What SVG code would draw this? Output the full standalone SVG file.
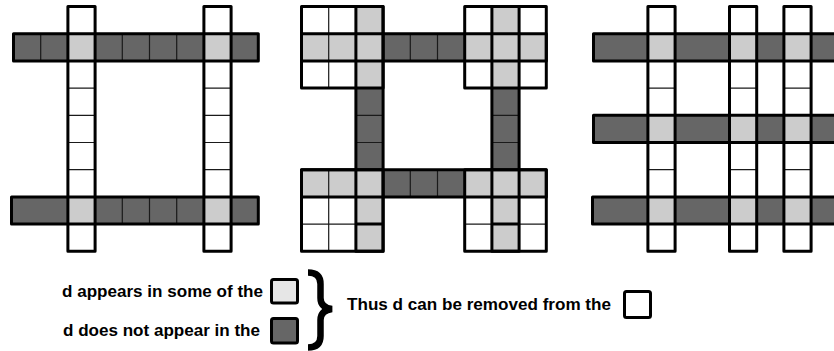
<svg xmlns="http://www.w3.org/2000/svg" width="834" height="351" viewBox="0 0 834 351">
<style>
.w{fill:#ffffff}
.l{fill:#cccccc}
.d{fill:#666666}
.thin{stroke:#1a1a1a;stroke-width:1.2;fill:none}
.thick{stroke:#000;stroke-width:3;fill:none;stroke-linejoin:round}
.txt{font-family:"Liberation Sans",Arial,Helvetica,sans-serif;font-weight:bold;font-size:17.4px;fill:#000}
</style>
<rect width="834" height="351" fill="#ffffff"/>

<g id="panel1">
  <rect class="w" x="67.9" y="6.5" width="27.2" height="244.8"/>
  <rect class="w" x="203.9" y="6.5" width="27.2" height="244.8"/>
  <rect class="d" x="13.5" y="33.7" width="244.8" height="27.2"/>
  <rect class="d" x="11.5" y="196.9" width="246.8" height="27.2"/>
  <rect class="l" x="67.9" y="33.7" width="27.2" height="27.2"/>
  <rect class="l" x="203.9" y="33.7" width="27.2" height="27.2"/>
  <rect class="l" x="67.9" y="196.9" width="27.2" height="27.2"/>
  <rect class="l" x="203.9" y="196.9" width="27.2" height="27.2"/>
  <path class="thin" d="M67.9 88.1H95.1M67.9 115.3H95.1M67.9 142.5H95.1M67.9 169.7H95.1M203.9 88.1H231.1M203.9 115.3H231.1M203.9 142.5H231.1M203.9 169.7H231.1M40.7 33.7V60.9M122.3 33.7V60.9M149.5 33.7V60.9M176.7 33.7V60.9M122.3 196.9V224.1M149.5 196.9V224.1M176.7 196.9V224.1"/>
  <rect class="thick" x="13.5" y="33.7" width="244.8" height="27.2"/>
  <rect class="thick" x="11.5" y="196.9" width="246.8" height="27.2"/>
  <rect class="thick" x="67.9" y="6.5" width="27.2" height="244.8"/>
  <rect class="thick" x="203.9" y="6.5" width="27.2" height="244.8"/>
</g>

<g id="panel2">
  <rect class="w" x="301.5" y="6.5" width="81.6" height="81.6"/>
  <rect class="w" x="464.7" y="6.5" width="81.6" height="81.6"/>
  <rect class="w" x="301.5" y="169.7" width="81.6" height="81.6"/>
  <rect class="w" x="464.7" y="169.7" width="81.6" height="81.6"/>
  <rect class="l" x="301.5" y="33.7" width="81.6" height="27.2"/>
  <rect class="l" x="464.7" y="33.7" width="81.6" height="27.2"/>
  <rect class="l" x="301.5" y="169.7" width="81.6" height="27.2"/>
  <rect class="l" x="464.7" y="169.7" width="81.6" height="27.2"/>
  <rect class="l" x="355.9" y="6.5" width="27.2" height="81.6"/>
  <rect class="l" x="355.9" y="169.7" width="27.2" height="81.6"/>
  <rect class="l" x="491.9" y="6.5" width="27.2" height="81.6"/>
  <rect class="l" x="491.9" y="169.7" width="27.2" height="81.6"/>
  <rect class="d" x="383.1" y="33.7" width="81.6" height="27.2"/>
  <rect class="d" x="383.1" y="169.7" width="81.6" height="27.2"/>
  <rect class="d" x="355.9" y="88.1" width="27.2" height="81.6"/>
  <rect class="d" x="491.9" y="88.1" width="27.2" height="81.6"/>
  <path class="thin" d="M328.7 6.5V88.1M355.9 6.5V88.1M301.5 33.7H383.1M301.5 60.9H383.1M491.9 6.5V88.1M519.1 6.5V88.1M464.7 33.7H546.3M464.7 60.9H546.3M328.7 169.7V251.3M355.9 169.7V251.3M301.5 196.9H383.1M301.5 224.1H383.1M491.9 169.7V251.3M519.1 169.7V251.3M464.7 196.9H546.3M464.7 224.1H546.3M410.3 33.7V60.9M437.5 33.7V60.9M410.3 169.7V196.9M437.5 169.7V196.9M355.9 115.3H383.1M355.9 142.5H383.1M491.9 115.3H519.1M491.9 142.5H519.1"/>
  <rect class="thick" x="301.5" y="6.5" width="81.6" height="81.6"/>
  <rect class="thick" x="464.7" y="6.5" width="81.6" height="81.6"/>
  <rect class="thick" x="301.5" y="169.7" width="81.6" height="81.6"/>
  <rect class="thick" x="464.7" y="169.7" width="81.6" height="81.6"/>
  <rect class="thick" x="301.5" y="33.7" width="244.8" height="27.2"/>
  <rect class="thick" x="301.5" y="169.7" width="244.8" height="27.2"/>
  <rect class="thick" x="355.9" y="6.5" width="27.2" height="244.8"/>
  <rect class="thick" x="491.9" y="6.5" width="27.2" height="244.8"/>
  <path class="thick" d="M355.9 224.1H383.1M491.9 224.1H519.1"/>
</g>

<g id="panel3">
  <rect class="w" x="647.9" y="6.5" width="27.2" height="244.8"/>
  <rect class="w" x="729.5" y="6.5" width="27.2" height="244.8"/>
  <rect class="w" x="783.9" y="6.5" width="27.2" height="244.8"/>
  <rect class="d" x="593.5" y="33.7" width="250" height="27.2"/>
  <rect class="d" x="593.5" y="115.3" width="250" height="27.2"/>
  <rect class="d" x="592.5" y="196.9" width="251" height="27.2"/>
  <rect class="l" x="647.9" y="33.7" width="27.2" height="27.2"/>
  <rect class="l" x="729.5" y="33.7" width="27.2" height="27.2"/>
  <rect class="l" x="783.9" y="33.7" width="27.2" height="27.2"/>
  <rect class="l" x="647.9" y="115.3" width="27.2" height="27.2"/>
  <rect class="l" x="729.5" y="115.3" width="27.2" height="27.2"/>
  <rect class="l" x="783.9" y="115.3" width="27.2" height="27.2"/>
  <rect class="l" x="647.9" y="196.9" width="27.2" height="27.2"/>
  <rect class="l" x="729.5" y="196.9" width="27.2" height="27.2"/>
  <rect class="l" x="783.9" y="196.9" width="27.2" height="27.2"/>
  <path class="thin" d="M647.9 88.1H675.1M729.5 88.1H756.7M783.9 88.1H811.1M647.9 169.7H675.1M729.5 169.7H756.7M783.9 169.7H811.1"/>
  <rect class="thick" x="593.5" y="33.7" width="250" height="27.2"/>
  <rect class="thick" x="593.5" y="115.3" width="250" height="27.2"/>
  <rect class="thick" x="592.5" y="196.9" width="251" height="27.2"/>
  <rect class="thick" x="647.9" y="6.5" width="27.2" height="244.8"/>
  <rect class="thick" x="729.5" y="6.5" width="27.2" height="244.8"/>
  <rect class="thick" x="783.9" y="6.5" width="27.2" height="244.8"/>
</g>

<g id="legend">
  <text class="txt" x="62" y="297" textLength="201" lengthAdjust="spacingAndGlyphs">d appears in some of the</text>
  <text class="txt" x="63" y="336" textLength="197" lengthAdjust="spacingAndGlyphs">d does not appear in the</text>
  <rect x="271.5" y="279.5" width="26" height="23.5" rx="2" fill="#e6e6e6" stroke="#000" stroke-width="3"/>
  <rect x="271.5" y="318.5" width="26" height="24.5" rx="2" fill="#666666" stroke="#000" stroke-width="3"/>
  <path d="M308 272.5C316 272.5 320.5 276 320.5 284L320.5 298C320.5 304 324 308 332 309C324 310 320.5 314 320.5 320L320.5 336C320.5 344 316 347.5 308 347.5" fill="none" stroke="#000" stroke-width="6.5"/>
  <text class="txt" x="347" y="310" textLength="264" lengthAdjust="spacingAndGlyphs">Thus d can be removed from the</text>
  <rect x="624.5" y="291.5" width="26" height="26" rx="2" fill="#ffffff" stroke="#000" stroke-width="3"/>
</g>
</svg>
